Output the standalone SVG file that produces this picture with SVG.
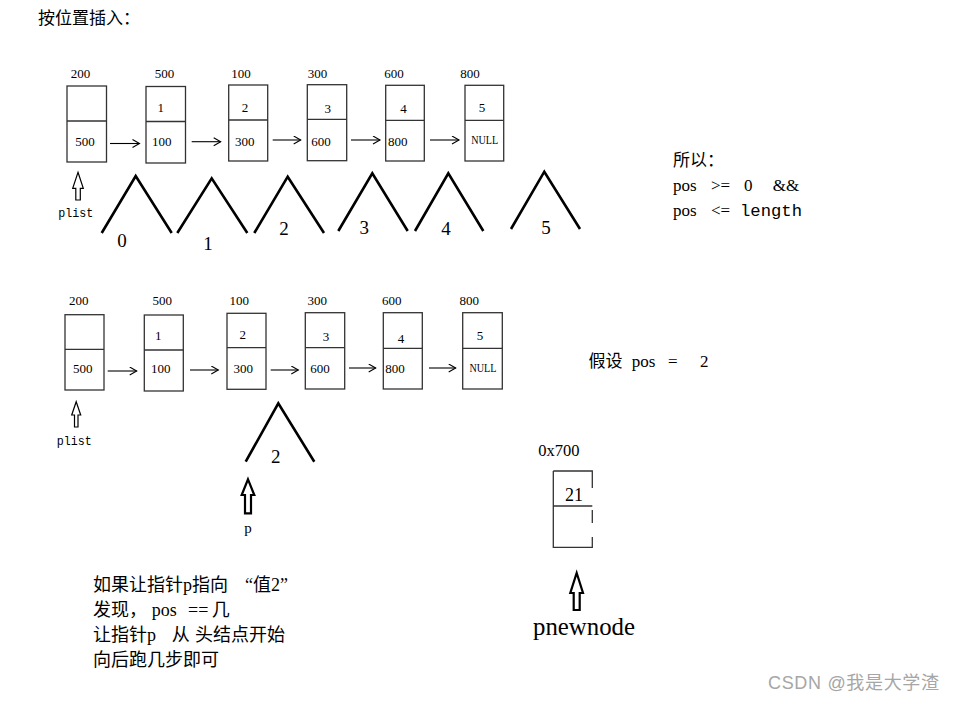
<svg xmlns="http://www.w3.org/2000/svg" width="955" height="701" viewBox="0 0 955 701">
<defs>
<style>
.bx{fill:#fff;stroke:#333;stroke-width:1.3}
.dv{stroke:#333;stroke-width:1.3}
.s{font-family:"Liberation Serif","Noto Sans CJK SC",serif;fill:#000}
.m{font-family:"Liberation Mono","Noto Sans CJK SC",monospace;fill:#000}
.lb{font-size:13px;text-anchor:middle}
.cn{font-size:19px;text-anchor:middle}
.tx{font-size:17px;white-space:pre}
.bt{font-size:18px}
.ar{stroke:#000;stroke-width:1.1;fill:none;marker-end:url(#ah)}
.cr{stroke:#000;stroke-width:2.6;fill:none;stroke-linejoin:miter}
.ho{fill:#fff;stroke:#000;stroke-width:1.2;stroke-linejoin:miter}
.hb{fill:#fff;stroke:#000;stroke-width:2.2;stroke-linejoin:miter}
</style>
<marker id="ah" markerWidth="10" markerHeight="10" refX="8" refY="4.5" orient="auto" markerUnits="userSpaceOnUse">
<path d="M1,0.5 L8,4.5 L1,8.5" fill="none" stroke="#000" stroke-width="1.1"/>
</marker>
</defs>
<rect width="955" height="701" fill="#fff"/>

<text class="s" x="38" y="24" font-size="17">按位置插入：</text>

<!-- Row 1 nodes -->
<g id="r1n0">
<rect class="bx" x="67" y="86" width="39.5" height="76"/><line class="dv" x1="67" y1="121" x2="106.5" y2="121"/>
<text class="s lb" x="80.5" y="78">200</text><text class="s lb" x="85" y="146">500</text>
</g>
<g id="r1n1">
<rect class="bx" x="146" y="86.5" width="39.5" height="76.5"/><line class="dv" x1="146" y1="121.5" x2="185.5" y2="121.5"/>
<text class="s lb" x="164.5" y="78">500</text><text class="s lb" x="160.7" y="112">1</text><text class="s lb" x="161.7" y="146">100</text>
</g>
<g id="r1n2">
<rect class="bx" x="228.7" y="85" width="39" height="76"/><line class="dv" x1="228.7" y1="120" x2="267.7" y2="120"/>
<text class="s lb" x="241" y="78">100</text><text class="s lb" x="245" y="111.5">2</text><text class="s lb" x="244.7" y="146">300</text>
</g>
<g id="r1n3">
<rect class="bx" x="307.3" y="84.7" width="39.4" height="76"/><line class="dv" x1="307.3" y1="119.3" x2="346.7" y2="119.3"/>
<text class="s lb" x="317.5" y="78">300</text><text class="s lb" x="327.7" y="113">3</text><text class="s lb" x="321" y="146">600</text>
</g>
<g id="r1n4">
<rect class="bx" x="385.7" y="85.3" width="38.6" height="75.7"/><line class="dv" x1="385.7" y1="120.3" x2="424.3" y2="120.3"/>
<text class="s lb" x="394" y="78">600</text><text class="s lb" x="403.5" y="113">4</text><text class="s lb" x="397.8" y="146">800</text>
</g>
<g id="r1n5">
<rect class="bx" x="465" y="85.3" width="38.7" height="75.7"/><line class="dv" x1="465" y1="120.3" x2="503.7" y2="120.3"/>
<text class="s lb" x="470" y="78">800</text><text class="s lb" x="482" y="112">5</text><text class="s lb" x="484.7" y="144" textLength="27" lengthAdjust="spacingAndGlyphs" font-size="12">NULL</text>
</g>
<g id="r1plist">
<polygon class="ho" points="78,172.3 83.3,188.3 80.3,188.3 80.3,200 75.8,200 75.8,188.3 72.7,188.3"/>
<text class="m" x="58.3" y="216.7" font-size="12" textLength="35" lengthAdjust="spacingAndGlyphs">plist</text>
</g>

<!-- position carets -->
<g id="carets1">
<polyline class="cr" points="101.7,233 135.7,176 171.7,233"/>
<polyline class="cr" points="177.3,233 211.7,178.3 247.3,233"/>
<polyline class="cr" points="254.3,233 287.7,176.7 324,233"/>
<polyline class="cr" points="338.3,231 372.3,173.3 407.7,231"/>
<polyline class="cr" points="415,231 448.3,173.3 483.3,231"/>
<polyline class="cr" points="511,229 544.3,171.7 580,229"/>
<text class="s cn" x="122" y="247">0</text>
<text class="s cn" x="208" y="250">1</text>
<text class="s cn" x="284" y="235">2</text>
<text class="s cn" x="364.3" y="234">3</text>
<text class="s cn" x="446" y="235">4</text>
<text class="s cn" x="546" y="234">5</text>
</g>

<g id="note1">
<text class="s tx" x="673" y="166">所以：</text>
<text class="s tx" x="673" y="191"><tspan x="673">pos</tspan><tspan x="711">&gt;=</tspan><tspan x="744">0</tspan><tspan x="772.7">&amp;&amp;</tspan></text>
<text class="s tx" x="673" y="216"><tspan x="673">pos</tspan><tspan x="711">&lt;=</tspan></text>
<text class="m" x="740" y="216" font-size="17" textLength="62" lengthAdjust="spacingAndGlyphs">length</text>
</g>

<!-- Row 2 nodes -->
<g id="r2n0">
<rect class="bx" x="65" y="314.7" width="39" height="75.3"/><line class="dv" x1="65" y1="349.3" x2="104" y2="349.3"/>
<text class="s lb" x="78.8" y="305">200</text><text class="s lb" x="82.7" y="373.3">500</text>
</g>
<g id="r2n1">
<rect class="bx" x="144.3" y="315" width="39" height="76"/><line class="dv" x1="144.3" y1="350" x2="183.3" y2="350"/>
<text class="s lb" x="162.2" y="305">500</text><text class="s lb" x="158.3" y="340">1</text><text class="s lb" x="160.7" y="373.3">100</text>
</g>
<g id="r2n2">
<rect class="bx" x="227" y="313.3" width="39" height="76"/><line class="dv" x1="227" y1="347.7" x2="266" y2="347.7"/>
<text class="s lb" x="239.3" y="305">100</text><text class="s lb" x="242.7" y="339.3">2</text><text class="s lb" x="243.3" y="373.3">300</text>
</g>
<g id="r2n3">
<rect class="bx" x="305.3" y="312.7" width="39.4" height="76.3"/><line class="dv" x1="305.3" y1="347.7" x2="344.7" y2="347.7"/>
<text class="s lb" x="317.2" y="305">300</text><text class="s lb" x="326" y="341">3</text><text class="s lb" x="320" y="373.3">600</text>
</g>
<g id="r2n4">
<rect class="bx" x="383.3" y="312.7" width="39" height="76.3"/><line class="dv" x1="383.3" y1="348.3" x2="422.3" y2="348.3"/>
<text class="s lb" x="391.7" y="305">600</text><text class="s lb" x="401" y="343">4</text><text class="s lb" x="395" y="373.3">800</text>
</g>
<g id="r2n5">
<rect class="bx" x="462.7" y="312.7" width="39.6" height="76.3"/><line class="dv" x1="462.7" y1="348.3" x2="502.3" y2="348.3"/>
<text class="s lb" x="469.3" y="305">800</text><text class="s lb" x="480" y="340">5</text><text class="s lb" x="483" y="372" textLength="27" lengthAdjust="spacingAndGlyphs" font-size="12">NULL</text>
</g>
<g id="r2plist">
<polygon class="ho" points="76.2,401.7 80.7,415 78,415 78,427 74.5,427 74.5,415 71.7,415"/>
<text class="m" x="56.7" y="445" font-size="12" textLength="35" lengthAdjust="spacingAndGlyphs">plist</text>
</g>

<g id="caret2">
<polyline class="cr" points="245.7,461.7 278.3,403.3 314.3,461.7"/>
<text class="s cn" x="275.7" y="463">2</text>
</g>

<g id="pptr">
<polygon class="hb" points="248,479.3 254.3,495 251,495 251,513.3 245,513.3 245,495 241.7,495"/>
<text class="s" x="248" y="533" font-size="15" text-anchor="middle">p</text>
</g>

<g id="note2">
<text class="s tx" x="588.5" y="367" font-size="18"><tspan x="588.5">假设</tspan><tspan x="631.7">pos</tspan><tspan x="668">=</tspan><tspan x="700">2</tspan></text>
</g>

<g id="newnode">
<text class="s" x="538.3" y="456" font-size="16.5">0x700</text>
<path d="M553.3,471 H592.3 V488 M553.3,471 V547.3 H592.3 V537 M553.3,506 H592.3 M592.3,510 V523" fill="none" stroke="#333" stroke-width="1.3"/>
<text class="s" x="574" y="500.5" font-size="18" text-anchor="middle">21</text>
</g>

<g id="pnewnode">
<polygon class="hb" points="576.7,573 583,593 579.7,593 579.7,610 573.7,610 573.7,593 570.3,593"/>
<text class="s" x="533" y="635" font-size="24.5" textLength="102" lengthAdjust="spacingAndGlyphs">pnewnode</text>
</g>

<g id="note3">
<text class="s bt" x="93" y="591"><tspan x="93">如果让指针p指向</tspan><tspan x="245">“值2”</tspan></text>
<text class="s bt" x="93" y="616"><tspan x="93">发现，</tspan><tspan x="151.7">pos</tspan><tspan x="188">==</tspan><tspan x="211.7">几</tspan></text>
<text class="s bt" x="93" y="641"><tspan x="93">让指针p</tspan><tspan x="171.7">从</tspan><tspan x="195">头结点开始</tspan></text>
<text class="s bt" x="93" y="666">向后跑几步即可</text>
</g>

<!-- connectors -->
<g id="connectors">
<line class="ar" x1="110" y1="143.5" x2="139.5" y2="143.5"/>
<line class="ar" x1="191.7" y1="141.7" x2="220.7" y2="141.7"/>
<line class="ar" x1="272.7" y1="140" x2="300.7" y2="140"/>
<line class="ar" x1="351" y1="140" x2="380" y2="140"/>
<line class="ar" x1="430" y1="140" x2="459" y2="140"/>
<line class="ar" x1="107.7" y1="371" x2="136.7" y2="371"/>
<line class="ar" x1="190" y1="370" x2="218.3" y2="370"/>
<line class="ar" x1="270.7" y1="370" x2="298.3" y2="370"/>
<line class="ar" x1="349" y1="368" x2="375.7" y2="368"/>
<line class="ar" x1="429" y1="368" x2="455.7" y2="368"/>
</g>

<text x="768" y="689" font-family="'Liberation Sans','Noto Sans CJK SC',sans-serif" font-size="18" fill="#a6a6a6" textLength="171" lengthAdjust="spacing">CSDN @我是大学渣</text>
</svg>
